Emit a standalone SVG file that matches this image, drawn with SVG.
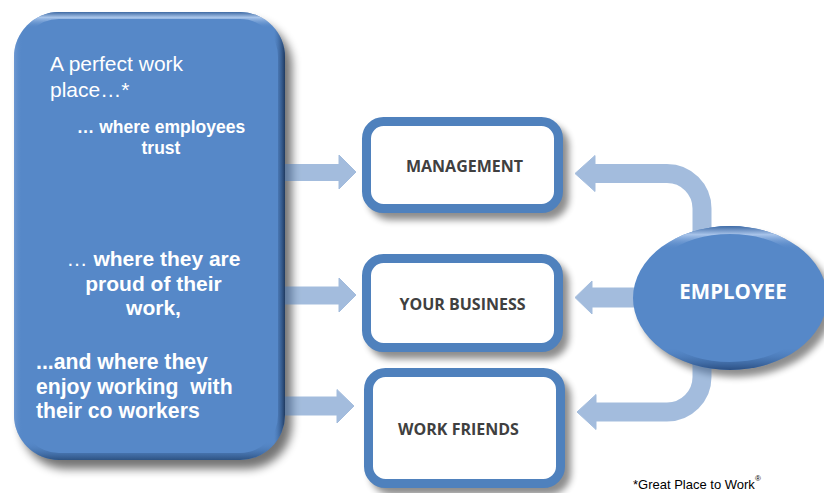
<svg xmlns="http://www.w3.org/2000/svg" width="824" height="493" viewBox="0 0 824 493">
  <defs>
    <style>
      .txt { font-family: "Liberation Sans", Arial, sans-serif; fill: #ffffff; }
      .lead { font-size: 21px; }
      .bold { font-weight: bold; }
      .label { font-family: "Open Sans", "Liberation Sans", sans-serif; font-weight: bold; font-size: 16px; fill: #404040; text-anchor: middle; }
      .card { fill: #ffffff; stroke: #4f81bd; stroke-width: 9; }
      .flow { fill: #4a7cbc; stroke: #4a7cbc; }
      .note { font-family: "Liberation Sans", Arial, sans-serif; font-size: 13px; fill: #000000; }
    </style>
    <filter id="bigShadow" x="-20%" y="-20%" width="140%" height="140%">
      <feGaussianBlur in="SourceAlpha" stdDeviation="5"/>
      <feOffset dx="7" dy="9" result="b"/>
      <feComponentTransfer><feFuncA type="linear" slope="0.55"/></feComponentTransfer>
    </filter>
    <filter id="cardShadow" x="-20%" y="-20%" width="140%" height="150%">
      <feGaussianBlur in="SourceAlpha" stdDeviation="3.5"/>
      <feOffset dx="6" dy="7"/>
      <feComponentTransfer><feFuncA type="linear" slope="0.45"/></feComponentTransfer>
    </filter>
    <linearGradient id="bevelV" x1="0" y1="0" x2="0" y2="1">
      <stop offset="0" stop-color="#3f6aa3"/>
      <stop offset="0.012" stop-color="#a9c5ea"/>
      <stop offset="0.035" stop-color="#5a8bca" stop-opacity="0"/>
      <stop offset="0.96" stop-color="#4f80bf" stop-opacity="0"/>
      <stop offset="1" stop-color="#2d5282"/>
    </linearGradient>
    <linearGradient id="bevelH" x1="0" y1="0" x2="1" y2="0">
      <stop offset="0" stop-color="#7fa4d8" stop-opacity="0.6"/>
      <stop offset="0.03" stop-color="#5a8bca" stop-opacity="0"/>
      <stop offset="0.96" stop-color="#3a66a0" stop-opacity="0"/>
      <stop offset="1" stop-color="#1f3a60"/>
    </linearGradient>
    <linearGradient id="ovalBevel" x1="0" y1="0" x2="0" y2="1">
      <stop offset="0" stop-color="#3e6aa5"/>
      <stop offset="0.06" stop-color="#a8c4ea"/>
      <stop offset="0.16" stop-color="#5b8bca" stop-opacity="0"/>
      <stop offset="0.85" stop-color="#4b7cbb" stop-opacity="0"/>
      <stop offset="1" stop-color="#2b4f82"/>
    </linearGradient>
    <clipPath id="bigClip"><rect x="14" y="12" width="271" height="448" rx="45"/></clipPath>
    <clipPath id="ovalClip"><ellipse cx="730" cy="298" rx="97" ry="72"/></clipPath>
  </defs>

  <!-- shadows -->
  <rect x="14" y="12" width="271" height="448" rx="45" fill="#000" filter="url(#bigShadow)"/>
  <g filter="url(#cardShadow)">
    <rect x="362" y="117" width="201" height="96" rx="22" fill="#000"/>
    <rect x="362" y="254" width="201" height="98" rx="22" fill="#000"/>
    <rect x="364" y="368" width="201" height="120" rx="22" fill="#000"/>
    <ellipse cx="730" cy="298" rx="97" ry="72" fill="#000"/>
  </g>

  <!-- connectors -->
  <g id="connectors">
    <g opacity="0.5">
      <path class="flow" stroke="none" d="M285,164.5 H339 V155 L356,172 L339,189 V180.5 H285 Z"/>
    </g>
    <g opacity="0.5">
      <path class="flow" stroke="none" d="M285,287 H339 V278 L356,295 L339,312 V304 H285 Z"/>
    </g>
    <g opacity="0.5">
      <path class="flow" stroke="none" d="M285,397 H337 V389.5 L354,406 L337,423 V415 H285 Z"/>
    </g>
    <g opacity="0.5">
      <path fill="none" stroke="#4a7cbc" stroke-width="19" d="M702,250 V208.5 A35,35 0 0 0 667,173.5 H594"/>
      <path class="flow" stroke="none" d="M595,155.5 L575,173.5 L595,191.5 Z"/>
    </g>
    <g opacity="0.5">
      <path class="flow" stroke="none" d="M645,288 H592 V281 L575,297.5 L592,314 V307 H645 Z"/>
    </g>
    <g opacity="0.5">
      <path fill="none" stroke="#4a7cbc" stroke-width="19" d="M702,345 V377 A35,35 0 0 1 667,412 H595"/>
      <path class="flow" stroke="none" d="M596,394.5 L577,412 L596,429.5 Z"/>
    </g>
  </g>

  <!-- left statement panel -->
  <g id="statement">
    <rect x="14" y="12" width="271" height="448" rx="45" fill="#5688c8"/>
    <g clip-path="url(#bigClip)" fill="none" stroke-width="14">
      <rect x="14" y="12" width="271" height="448" rx="45" stroke="url(#bevelV)"/>
      <rect x="14" y="12" width="271" height="448" rx="45" stroke="url(#bevelH)"/>
    </g>
    <text class="txt lead" x="50" y="71">A perfect work</text>
    <text class="txt lead" x="50" y="97">place…*</text>
    <text class="txt bold" font-size="17.5" text-anchor="middle" x="161" y="133">… where employees</text>
    <text class="txt bold" font-size="17.5" text-anchor="middle" x="161" y="154">trust</text>
    <text class="txt bold" font-size="21" text-anchor="middle" x="153.5" y="266"><tspan font-weight="normal">…</tspan> where they are</text>
    <text class="txt bold" font-size="21" text-anchor="middle" x="153.5" y="291">proud of their</text>
    <text class="txt bold" font-size="21" text-anchor="middle" x="153.5" y="315">work,</text>
    <text class="txt bold" font-size="21.2" x="36" y="369">...and where they</text>
    <text class="txt bold" font-size="21.2" x="36" y="394" xml:space="preserve">enjoy working  with</text>
    <text class="txt bold" font-size="21.2" x="36" y="418">their co workers</text>
  </g>

  <!-- target cards -->
  <g id="management">
    <rect class="card" x="366.5" y="121.5" width="192" height="87" rx="17"/>
    <text class="label" x="464.5" y="172">MANAGEMENT</text>
  </g>
  <g id="your-business">
    <rect class="card" x="366.5" y="258.5" width="192" height="89" rx="17"/>
    <text class="label" x="462.5" y="310">YOUR BUSINESS</text>
  </g>
  <g id="work-friends">
    <rect class="card" x="368.5" y="372.5" width="192" height="111" rx="17"/>
    <text class="label" x="458.5" y="435">WORK FRIENDS</text>
  </g>

  <!-- employee oval -->
  <g id="employee">
    <ellipse cx="730" cy="298" rx="97" ry="72" fill="#5688c8"/>
    <g clip-path="url(#ovalClip)">
      <ellipse cx="730" cy="298" rx="97" ry="72" fill="none" stroke="url(#ovalBevel)" stroke-width="16"/>
    </g>
    <text x="733" y="299" text-anchor="middle" font-family="'Open Sans', 'Liberation Sans', sans-serif" font-weight="bold" font-size="20.5" fill="#ffffff">EMPLOYEE</text>
  </g>

  <text class="note" x="633" y="489">*Great Place to Work<tspan font-size="8" dy="-8">®</tspan></text>
</svg>
